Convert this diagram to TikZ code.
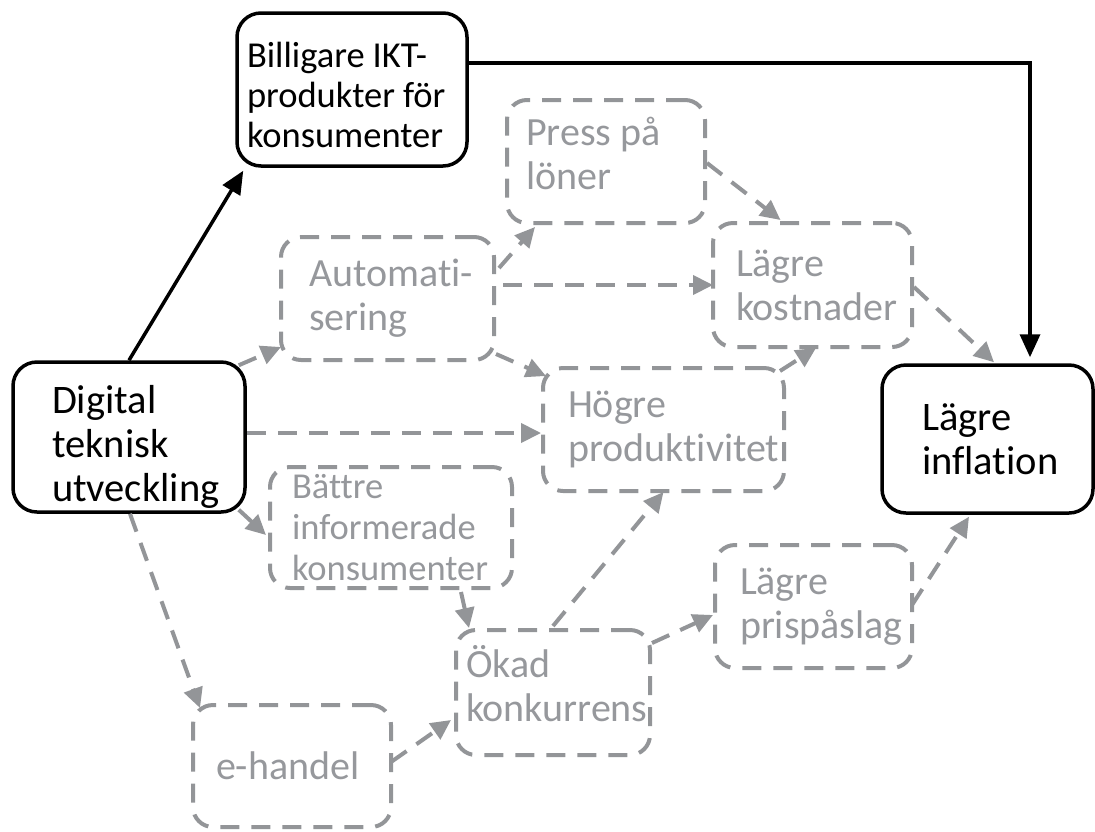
\documentclass[tikz,border=0pt]{standalone}
\usepackage{fontspec}
\setmainfont{Carlito}[Ligatures={NoCommon,NoContextual}]
\usetikzlibrary{arrows.meta}
\definecolor{lgray}{RGB}{147,149,152}
\definecolor{tgray}{RGB}{150,152,156}
\newcommand{\fs}[2]{\fontsize{#1}{#2}\selectfont}
\newcommand{\wsp}{\hspace{0.22em}}
\tikzset{
  bbox/.style={draw=black, line width=3.5pt, rounded corners=24pt, align=left, inner xsep=0pt, inner ysep=0pt, text=black, fill=white},
  gbox/.style={draw=lgray, line width=4pt, dash pattern=on 19pt off 12pt, rounded corners=20pt, align=left, inner xsep=0pt, inner ysep=0pt, text=tgray, font=\fs{40}{44}},
  barrow/.style={draw=black, line width=3.5pt, -{Triangle[length=23pt,width=20pt]}},
  garrow/.style={draw=lgray, line width=4pt, dash pattern=on 19pt off 12pt, -{Triangle[length=20pt,width=19pt]}},
}
\begin{document}
\begin{tikzpicture}[x=1pt,y=-1pt]
\useasboundingbox (0,0) rectangle (1095,831);
% black nodes
\node[bbox, minimum width=230pt, minimum height=153pt, text width=210pt, font=\fs{36.5}{40}] (bil) at (352,89.5) {\mbox{Billigare\wsp IKT-}\\\mbox{produkter\wsp för}\\konsumenter\par\vspace*{-10pt}};
\node[bbox, minimum width=232pt, minimum height=150pt, text width=154pt, font=\fs{40.5}{44}] (dig) at (129,437) {Digital\\teknisk\\utveckling\par\vspace*{-20pt}};
\node[bbox, minimum width=211pt, minimum height=148pt, text width=131pt, font=\fs{40.5}{44}] (inf) at (987.5,439) {Lägre\\inflation};
% gray nodes
\node[gbox, minimum width=198pt, minimum height=123pt, text width=160pt] (pre) at (606,161.5) {\mbox{Press\wsp på}\\löner\par\vspace*{17pt}};
\node[gbox, minimum width=213pt, minimum height=123pt, text width=157pt] (aut) at (387.5,298.5) {\mbox{Automati-}\\sering};
\node[gbox, minimum width=199pt, minimum height=124pt, text width=153pt] (kos) at (812.5,285) {Lägre\\kostnader};
\node[gbox, minimum width=241pt, minimum height=123pt, text width=191pt] (hog) at (663.5,429.5) {Högre\\produktivitet};
\node[gbox, minimum width=242pt, minimum height=121pt, text width=198pt, font=\fs{36.5}{41}] (bat) at (391,527.5) {Bättre\\informerade\\konsumenter};
\node[gbox, minimum width=194pt, minimum height=125pt, text width=174pt] (oka) at (553,692.5) {Ökad\\konkurrens\par\vspace*{17pt}};
\node[gbox, minimum width=197pt, minimum height=123pt, text width=147pt] (pri) at (813.5,606.5) {Lägre\\prispåslag};
\node[gbox, minimum width=198pt, minimum height=122pt, text width=152pt] (eha) at (292,766) {e-handel};
% black connectors
\draw[barrow] (dig.north) -- ([shift={(8,3)}]bil.south west);
\draw[barrow] ([shift={(0,-26.5)}]bil.east) -| ([shift={(42.5,-6)}]inf.north);
% gray connectors
\draw[garrow] ([shift={(-8,5)}]dig.north east) -- ([shift={(2,-15)}]aut.south west);
\draw[garrow] ([shift={(0,-4)}]dig.east) -- ([shift={(0,3.5)}]hog.west);
\draw[garrow] ([shift={(-8,-4)}]dig.south east) -- ([shift={(-2,7.5)}]bat.west);
\draw[garrow] ([shift={(1,0)}]dig.south) -- ([shift={(9,5)}]eha.north west);
\draw[garrow] ([shift={(3,-30.5)}]aut.east) -- ([shift={(30,2)}]pre.south west);
\draw[garrow] ([shift={(7,-13.5)}]aut.east) -- ([shift={(2,0)}]kos.west);
\draw[garrow] ([shift={(0,-8)}]aut.south east) -- ([shift={(5,10)}]hog.north west);
\draw[garrow] ([shift={(0,1.5)}]pre.east) -- ([shift={(-32,-1)}]kos.north);
\draw[garrow] ([shift={(0,2)}]kos.east) -- ([shift={(6.5,-1)}]inf.north);
\draw[garrow] ([shift={(-6,5)}]hog.north east) -- ([shift={(3.5,-1)}]kos.south);
\draw[garrow] ([shift={(70,2)}]bat.south) -- ([shift={(15,0)}]oka.north west);
\draw[garrow] ([shift={(-2,-4)}]eha.east) -- ([shift={(-3,27.5)}]oka.west);
\draw[garrow] ([shift={(0,-2)}]oka.north) -- ([shift={(0,-1)}]hog.south);
\draw[garrow] ([shift={(0,15)}]oka.north east) -- ([shift={(0,8.5)}]pri.west);
\draw[garrow] ([shift={(-2,-1.5)}]pri.east) -- ([shift={(-18.5,2)}]inf.south);
\end{tikzpicture}
\end{document}
